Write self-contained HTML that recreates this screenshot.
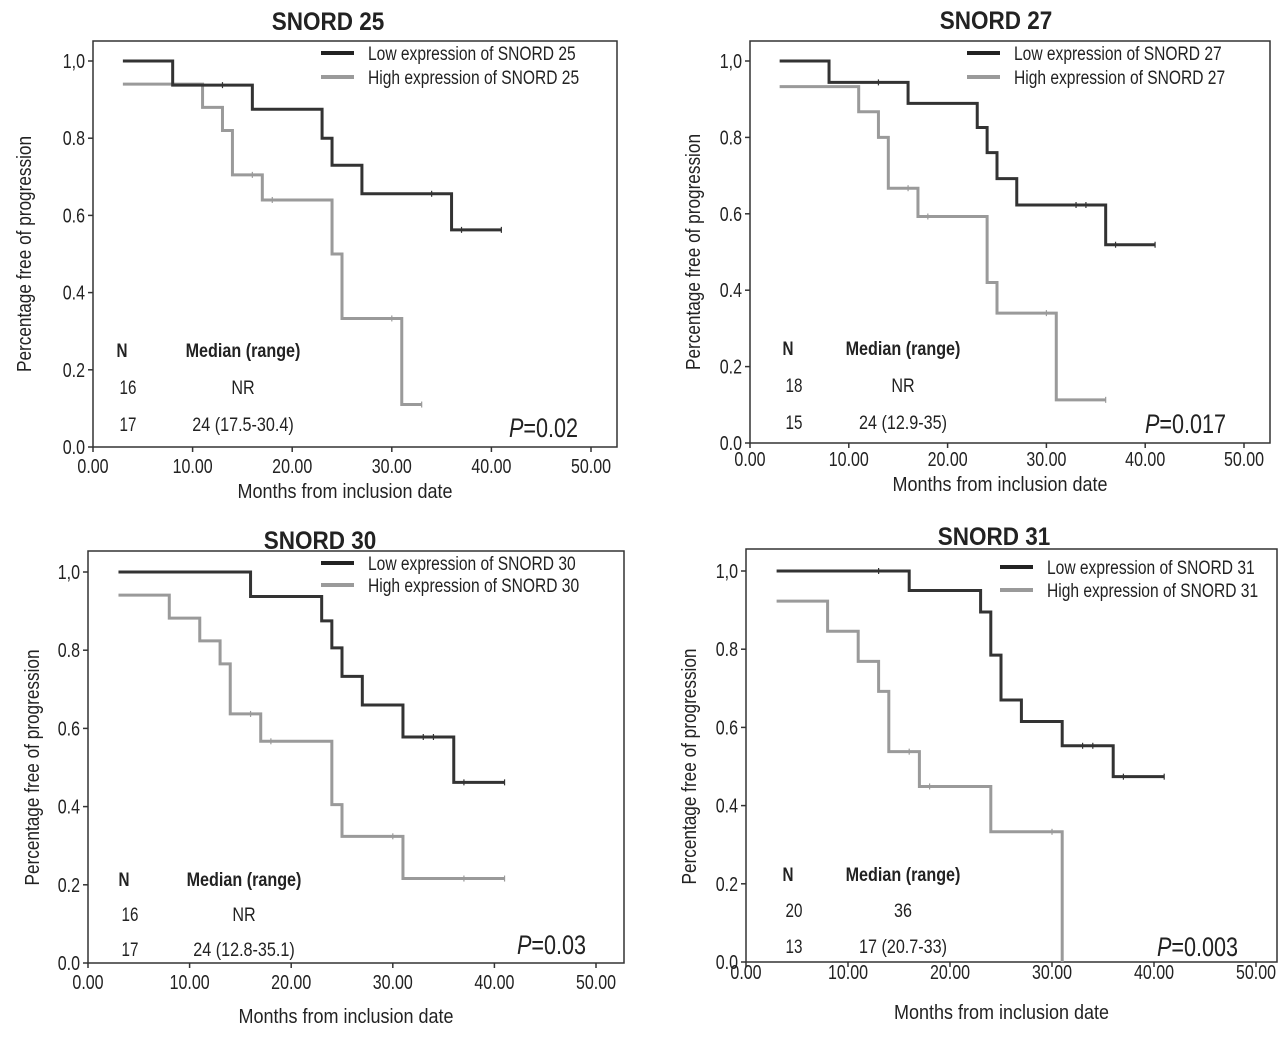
<!DOCTYPE html>
<html><head><meta charset="utf-8">
<style>
html,body{margin:0;padding:0;background:#fff;}
svg{display:block;}
text{font-family:"Liberation Sans Narrow","Liberation Sans",sans-serif;fill:#222;}
</style></head>
<body>
<svg id="chart" width="1280" height="1038" viewBox="0 0 1280 1038" xmlns="http://www.w3.org/2000/svg"></svg>
<script>
// ---- data ----
const xTicks = [0, 10, 20, 30, 40, 50];
const xTickLabels = ["0.00", "10.00", "20.00", "30.00", "40.00", "50.00"];
const yTicks = [0, 0.2, 0.4, 0.6, 0.8, 1.0];
const yTickLabels = ["0.0", "0.2", "0.4", "0.6", "0.8", "1,0"];

const titles = ["SNORD 25", "SNORD 27", "SNORD 30", "SNORD 31"];
const pValues = ["0.02", "0.017", "0.03", "0.003"];
const nLow = ["16", "18", "16", "20"];
const nHigh = ["17", "15", "17", "13"];
const medLow = ["NR", "NR", "NR", "36"];
const medHigh = ["24 (17.5-30.4)", "24 (12.9-35)", "24 (12.8-35.1)", "17 (20.7-33)"];

const lowTimes = [
  [3, 8, 16, 23, 24, 27, 36, 41],
  [3, 8, 16, 23, 24, 25, 27, 36, 41],
  [3, 16, 23, 24, 25, 27, 31, 36, 41],
  [3, 16, 23, 24, 25, 27, 31, 36, 41]
];
const lowSurv = [
  [1.0, 0.9375, 0.875, 0.8, 0.73, 0.656, 0.5625],
  [1.0, 0.944, 0.889, 0.826, 0.76, 0.692, 0.623, 0.519],
  [1.0, 0.9375, 0.875, 0.806, 0.733, 0.66, 0.578, 0.462],
  [1.0, 0.95, 0.895, 0.785, 0.67, 0.615, 0.553, 0.474]
];
const lowCensor = [[13, 34, 37, 41], [13, 33, 34, 37, 41], [33, 34, 37, 41], [13, 33, 34, 37, 41]];
const highTimes = [
  [3, 11, 13, 14, 17, 24, 25, 31, 33],
  [3, 11, 13, 14, 17, 24, 25, 31, 36],
  [3, 8, 11, 13, 14, 17, 24, 25, 31, 41],
  [3, 8, 11, 13, 14, 17, 24, 31, 31]
];
const highSurv = [
  [0.94, 0.88, 0.82, 0.705, 0.64, 0.5, 0.333, 0.11],
  [0.933, 0.867, 0.8, 0.667, 0.593, 0.42, 0.34, 0.113],
  [0.941, 0.882, 0.824, 0.765, 0.637, 0.567, 0.405, 0.324, 0.216],
  [0.923, 0.846, 0.769, 0.692, 0.538, 0.449, 0.333, 0.0]
];
const highCensor = [[16, 18, 30, 33], [16, 18, 30, 36], [16, 18, 30, 37, 41], [16, 18, 30]];

// ---- layout ----
const panels = [
  {x0:93, x50:591, yTop:61, yBot:447, boxR:617, boxT:41, titleX:328, titleY:30, legX:321, legY1:53, legY2:77, nX:122, nY:350, rowGap:37, medX:243, pR:578, pY:437, xtY:473, xtitY:498, ytX:25},
  {x0:750, x50:1244, yTop:61, yBot:443, boxR:1270, boxT:41, titleX:996, titleY:29, legX:967, legY1:53, legY2:77, nX:788, nY:348, rowGap:37, medX:903, pR:1226, pY:433, xtY:466, xtitY:491, ytX:694},
  {x0:88, x50:596, yTop:572, yBot:963, boxR:624, boxT:551, titleX:320, titleY:549, legX:321, legY1:563, legY2:585, nX:124, nY:879, rowGap:35, medX:244, pR:586, pY:954, xtY:989, xtitY:1023, ytX:33},
  {x0:746, x50:1256, yTop:571, yBot:962, boxR:1277, boxT:549, titleX:994, titleY:545, legX:1000, legY1:567, legY2:590, nX:788, nY:874, rowGap:36, medX:903, pR:1238, pY:956, xtY:979, xtitY:1019, ytX:690}
];

const NS = "http://www.w3.org/2000/svg";
const svg = document.getElementById("chart");
const SX = 0.8;
function mk(tag, attrs, parent, txt){
  const e = document.createElementNS(NS, tag);
  for (const k in attrs) e.setAttribute(k, attrs[k]);
  if (txt !== undefined) e.textContent = txt;
  (parent || svg).appendChild(e);
  return e;
}
function ctext(parent, x, y, attrs, txt, sx){
  const w = mk("g", {transform:`translate(${x} ${y}) scale(${sx || SX} 1)`}, parent);
  return mk("text", Object.assign({x:0, y:0}, attrs), w, txt);
}

panels.forEach((p, i) => {
  const g = mk("g", {});
  
  
  const xs = v => p.x0 + (p.x50 - p.x0) * v / 50;
  const ys = v => p.yBot - (p.yBot - p.yTop) * v;

  const box = mk("rect", {x:p.x0, y:p.boxT, width:p.boxR - p.x0, height:p.yBot - p.boxT, fill:"none", stroke:"#333", "stroke-width":1.5}, g);
  
  

  const title = ctext(g, p.titleX, p.titleY, {"text-anchor":"middle", "font-size":25, "font-weight":"bold"}, titles[i], 0.9);
  
  

  xTicks.forEach((t, k) => {
    const tk = mk("line", {x1:xs(t), x2:xs(t), y1:p.yBot, y2:p.yBot + 5, stroke:"#333", "stroke-width":1.5}, g);
    
    
    const lb = ctext(g, xs(t), p.xtY, {"text-anchor":"middle", "font-size":20}, xTickLabels[k]);
    
    
  });
  yTicks.forEach((t, k) => {
    const tk = mk("line", {x1:p.x0 - 5, x2:p.x0, y1:ys(t), y2:ys(t), stroke:"#333", "stroke-width":1.5}, g);
    
    
    const lb = ctext(g, p.x0 - 8, ys(t) + 7, {"text-anchor":"end", "font-size":20}, yTickLabels[k]);
    
    
  });

  const xt = ctext(g, (p.x0 + p.boxR) / 2 - 10, p.xtitY, {"text-anchor":"middle", "font-size":20}, "Months from inclusion date", 0.9);
  
  
  const yc = (p.yTop + p.yBot) / 2;
  const yt = mk("text", {x:p.ytX, y:yc, "text-anchor":"middle", "font-size":20, transform:`rotate(-90 ${p.ytX} ${yc}) translate(${p.ytX} 0) scale(0.86 1) translate(${-p.ytX} 0)`, dy:6}, g, "Percentage free of progression");
  
  

  function drawSeries(times, surv, cens, color, name){
    let d = "M" + xs(times[0]) + " " + ys(surv[0]);
    for (let k = 0; k < surv.length; k++){
      d += " H" + xs(times[k + 1]);
      if (k + 1 < surv.length) d += " V" + ys(surv[k + 1]);
    }
    const path = mk("path", {d:d, fill:"none", stroke:color, "stroke-width":3}, g);
    
    
    cens.forEach(c => {
      let lvl = surv[0];
      for (let k = 0; k < surv.length; k++) if (c >= times[k]) lvl = surv[k];
      const cm = mk("line", {x1:xs(c), x2:xs(c), y1:ys(lvl) - 3, y2:ys(lvl) + 3, stroke:color, "stroke-width":1.2}, g);
      
      
    });
  }
  drawSeries(highTimes[i], highSurv[i], highCensor[i], "#9a9a9a", "high-expression");
  drawSeries(lowTimes[i], lowSurv[i], lowCensor[i], "#333", "low-expression");

  const l1 = mk("line", {x1:p.legX, x2:p.legX + 33, y1:p.legY1, y2:p.legY1, stroke:"#222", "stroke-width":4}, g);
  
  
  const t1 = ctext(g, p.legX + 47, p.legY1 + 7, {"font-size":19}, "Low expression of " + titles[i], 0.82);
  
  
  const l2 = mk("line", {x1:p.legX, x2:p.legX + 33, y1:p.legY2, y2:p.legY2, stroke:"#9a9a9a", "stroke-width":4}, g);
  
  
  const t2 = ctext(g, p.legX + 47, p.legY2 + 7, {"font-size":19}, "High expression of " + titles[i], 0.82);
  
  

  const hN = ctext(g, p.nX, p.nY + 7, {"font-size":19, "font-weight":"bold", "text-anchor":"middle"}, "N");
  
  
  const hM = ctext(g, p.medX, p.nY + 7, {"font-size":19, "font-weight":"bold", "text-anchor":"middle"}, "Median (range)", 0.85);
  
  
  [[nLow[i], medLow[i]], [nHigh[i], medHigh[i]]].forEach((row, r) => {
    const yy = p.nY + 7 + p.rowGap * (r + 1);
    const a = ctext(g, p.nX + 6, yy, {"font-size":19, "text-anchor":"middle"}, row[0]);
    
    
    const b = ctext(g, p.medX, yy, {"font-size":19, "text-anchor":"middle"}, row[1], 0.85);
    
    
  });
  const pv = ctext(g, p.pR, p.pY, {"font-size":27, "text-anchor":"end"});
  
  
  mk("tspan", {"font-style":"italic"}, pv, "P");
  mk("tspan", {}, pv, "=" + pValues[i]);
});
</script>
</body></html>
